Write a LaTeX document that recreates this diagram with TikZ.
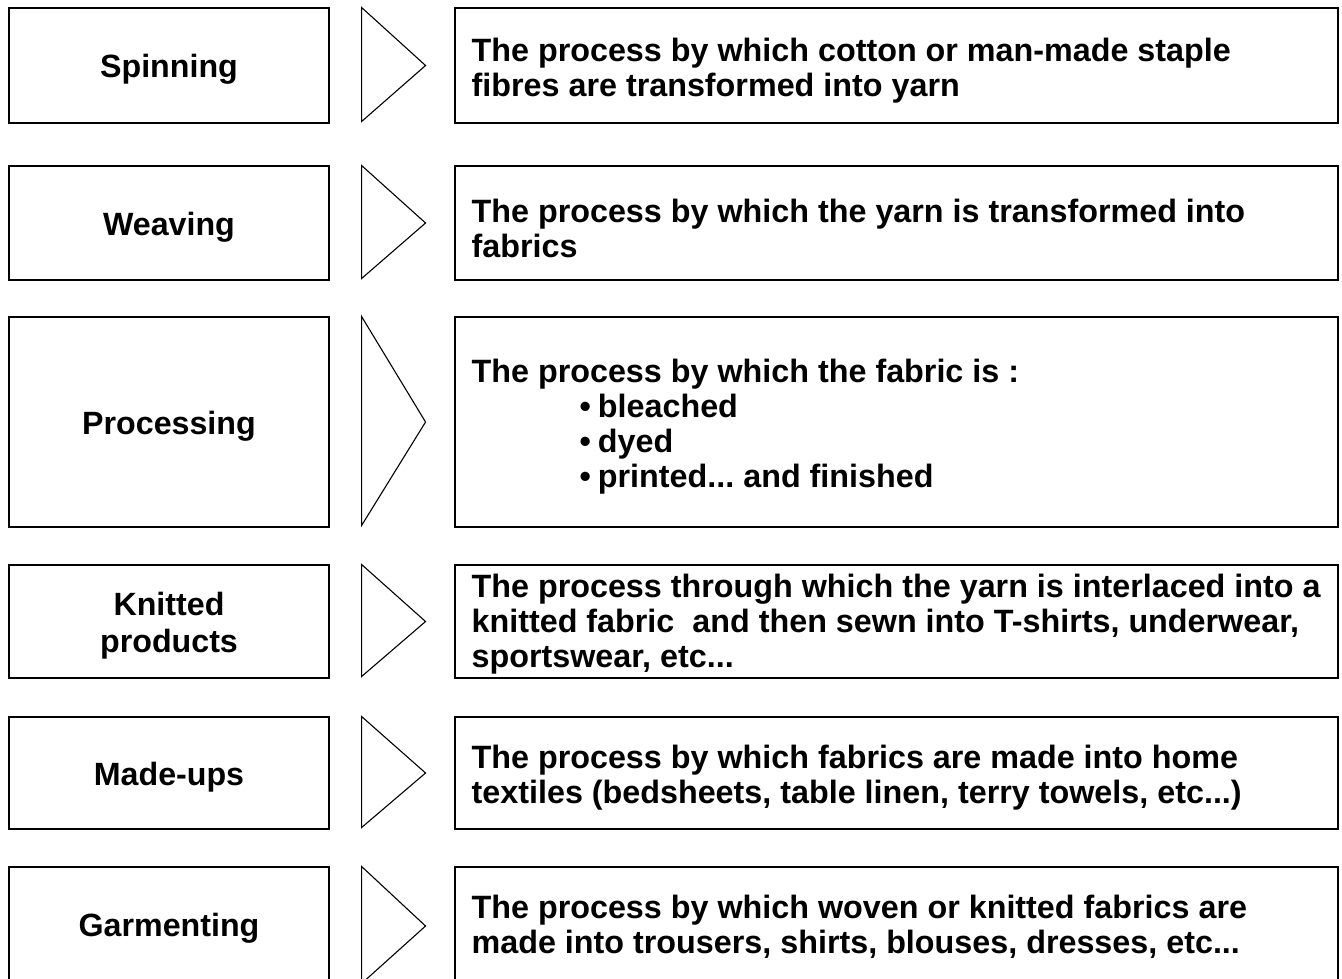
\documentclass[tikz,border=0pt]{standalone}
\usepackage{fontspec}
\setmainfont{Liberation Sans}
\usetikzlibrary{calc}
\frenchspacing

\tikzset{
  frame/.style={draw=black, line width=1.1pt},
  stagebox/.style={frame, minimum width=320pt, inner sep=0pt},
  stagetext/.style={align=center, inner sep=0pt,
    font=\fontsize{32.2}{37}\selectfont\bfseries},
  descbox/.style={frame, minimum width=883pt, inner sep=0pt},
  desctext/.style={anchor=west, align=left, inner sep=0pt,
    font=\fontsize{32.3}{35}\selectfont\bfseries},
  chevron/.style={frame, line join=miter}
}

\begin{document}
\begin{tikzpicture}[x=1pt, y=-1pt]
  \useasboundingbox (0,0) rectangle (1342,978);

  % stage boxes
  \node[stagebox, minimum height=115pt] (spin)  at (169,65.5)  {};
  \node[stagebox, minimum height=114pt] (weave) at (169,223)   {};
  \node[stagebox, minimum height=210pt] (proc)  at (169,422)   {};
  \node[stagebox, minimum height=113pt] (knit)  at (169,621.5) {};
  \node[stagebox, minimum height=112pt] (made)  at (169,773)   {};
  \node[stagebox, minimum height=118pt] (garm)  at (169,926)   {};

  % stage names
  \node[stagetext] (spinT)  at ($(spin)+(0,4)$)  {Spinning};
  \node[stagetext] (weaveT) at ($(weave)+(0,4)$) {Weaving};
  \node[stagetext] (procT)  at ($(proc)+(0,4)$)  {Processing};
  \node[stagetext] (knitT)  at ($(knit)+(0,4)$)  {Knitted\\products};
  \node[stagetext] (madeT)  at ($(made)+(0,4)$)  {Made-ups};
  \node[stagetext] (garmT)  at ($(garm)+(0,2)$)  {Garmenting};

  % description boxes
  \node[descbox, minimum height=115pt] (spinD)  at (896.5,65.5)  {};
  \node[descbox, minimum height=114pt] (weaveD) at (896.5,223)   {};
  \node[descbox, minimum height=210pt] (procD)  at (896.5,422)   {};
  \node[descbox, minimum height=113pt] (knitD)  at (896.5,621.5) {};
  \node[descbox, minimum height=112pt] (madeD)  at (896.5,773)   {};
  \node[descbox, minimum height=118pt] (garmD)  at (896.5,926)   {};

  % description texts
  \node[desctext] (spinDT) at ($(spinD.west)+(17,5)$)
    {The process by which cotton or man-made staple\\fibres are transformed into yarn};
  \node[desctext] (weaveDT) at ($(weaveD.west)+(17,5)$)
    {The process by which the yarn is transformed into\\fabrics};
  \node[desctext] (procDT) at ($(procD.west)+(17,5)$)
    {The process by which the fabric is :\\
     \hspace*{108pt}\textbullet\hspace{7pt}bleached\\
     \hspace*{108pt}\textbullet\hspace{7pt}dyed\\
     \hspace*{108pt}\textbullet\hspace{7pt}printed... and finished};
  \node[desctext] (knitDT) at ($(knitD.west)+(17,3)$)
    {The process through which the yarn is interlaced into a\\
     knitted fabric\ \ and then sewn into T-shirts, underwear,\\
     sportswear, etc...};
  \node[desctext] (madeDT) at ($(madeD.west)+(17,5)$)
    {The process by which fabrics are made into home\\
     textiles (bedsheets, table linen, terry towels, etc...)};
  \node[desctext] (garmDT) at ($(garmD.west)+(17,1)$)
    {The process by which woven or knitted fabrics are\\
     made into trousers, shirts, blouses, dresses, etc...};

  % chevrons between each stage and its description
  \foreach \s in {spin, weave, proc, knit, made, garm} {
    \draw[chevron] ($(\s.north east)+(32,0)$) -- ($(\s.east)+(96,0)$)
      -- ($(\s.south east)+(32,-2)$) -- cycle;
  }
\end{tikzpicture}
\end{document}
